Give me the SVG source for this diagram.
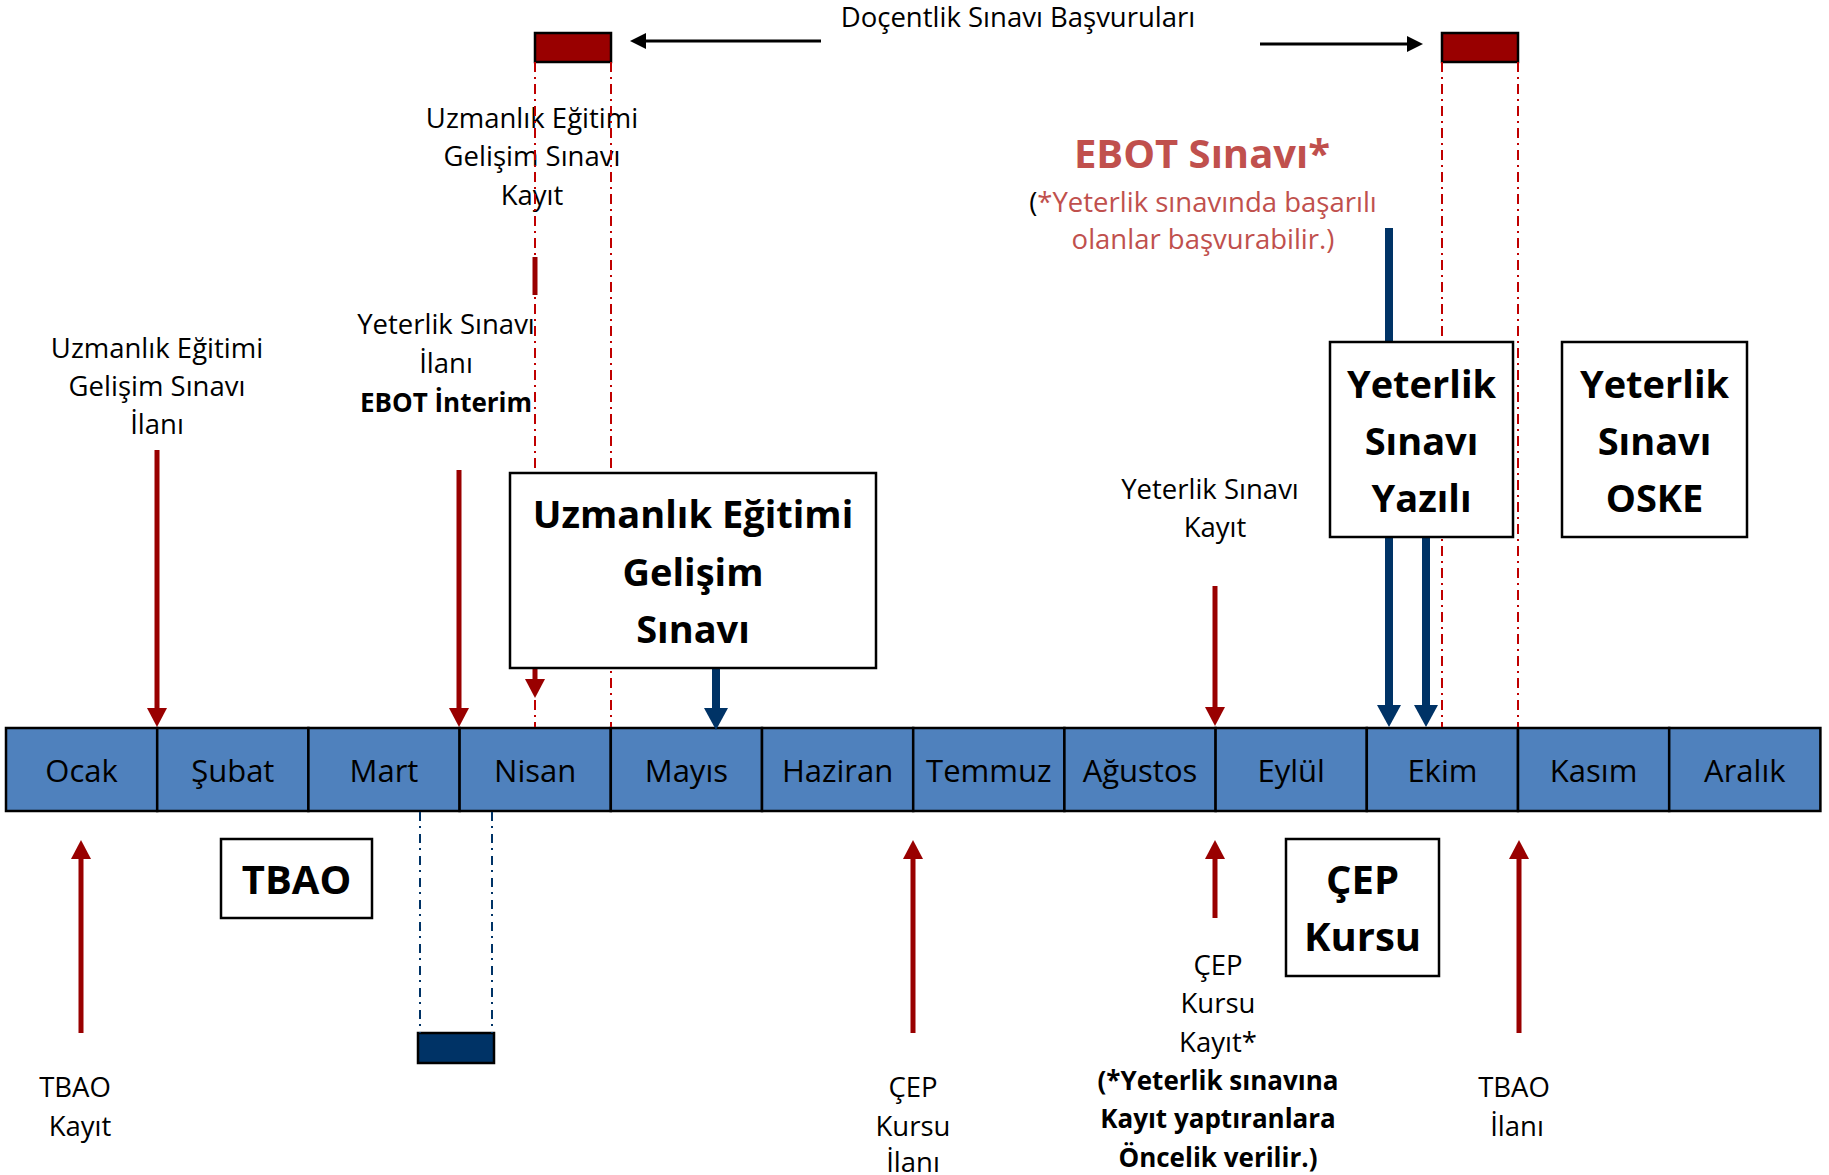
<svg xmlns="http://www.w3.org/2000/svg" width="1829" height="1175" viewBox="0 0 1829 1175">
<style>
text{font-family:"Open Sans","Noto Sans","Liberation Sans",sans-serif;text-anchor:middle;fill:#000}
.lbl{font-size:27.5px}
.lblb{font-size:26px;font-weight:bold}
.mon{font-size:31px}
.box{fill:#fff;stroke:#000;stroke-width:2.5}
.boxt{font-size:38px;font-weight:bold}
.boxt2{font-size:40px;font-weight:bold}
.red{fill:#C0504D}
.cell{fill:#4F81BD;stroke:#000;stroke-width:2.5}
.rdash{stroke:#C00000;stroke-width:2;stroke-dasharray:10 5 2 5;fill:none}
.bdash{stroke:#003366;stroke-width:2;stroke-dasharray:9 5 2 6;fill:none}
.ra{stroke:#990000;stroke-width:5;fill:none}
.ba{stroke:#003366;stroke-width:8;fill:none}
.ka{stroke:#000;stroke-width:3;fill:none}
</style>
<defs>
<marker id="mr" markerUnits="userSpaceOnUse" viewBox="0 0 19 20" markerWidth="19" markerHeight="20" refX="4" refY="10" orient="auto"><path d="M0,0 L19,10 L0,20 z" fill="#990000"/></marker>
<marker id="mb" markerUnits="userSpaceOnUse" viewBox="0 0 22 24" markerWidth="22" markerHeight="24" refX="4" refY="12" orient="auto"><path d="M0,0 L22,12 L0,24 z" fill="#003366"/></marker>
<marker id="mk" markerUnits="userSpaceOnUse" viewBox="0 0 16 16" markerWidth="16" markerHeight="16" refX="4" refY="8" orient="auto"><path d="M0,0 L16,8 L0,16 z" fill="#000"/></marker>
</defs>

<g id="timeline">
<rect class="cell" x="6" y="728" width="151.2" height="83"/>
<rect class="cell" x="157.2" y="728" width="151.2" height="83"/>
<rect class="cell" x="308.4" y="728" width="151.2" height="83"/>
<rect class="cell" x="459.6" y="728" width="151.2" height="83"/>
<rect class="cell" x="610.8" y="728" width="151.2" height="83"/>
<rect class="cell" x="762" y="728" width="151.2" height="83"/>
<rect class="cell" x="913.2" y="728" width="151.2" height="83"/>
<rect class="cell" x="1064.4" y="728" width="151.2" height="83"/>
<rect class="cell" x="1215.6" y="728" width="151.2" height="83"/>
<rect class="cell" x="1366.8" y="728" width="151.2" height="83"/>
<rect class="cell" x="1518" y="728" width="151.2" height="83"/>
<rect class="cell" x="1669.2" y="728" width="151.2" height="83"/>
<text class="mon" x="81.6" y="782">Ocak</text>
<text class="mon" x="232.8" y="782">Şubat</text>
<text class="mon" x="384" y="782">Mart</text>
<text class="mon" x="535.2" y="782">Nisan</text>
<text class="mon" x="686.4" y="782">Mayıs</text>
<text class="mon" x="837.6" y="782">Haziran</text>
<text class="mon" x="988.8" y="782">Temmuz</text>
<text class="mon" x="1140" y="782">Ağustos</text>
<text class="mon" x="1291.2" y="782">Eylül</text>
<text class="mon" x="1442.4" y="782">Ekim</text>
<text class="mon" x="1593.6" y="782">Kasım</text>
<text class="mon" x="1744.8" y="782">Aralık</text>
</g>

<g id="labels">
<text class="lbl" x="1018" y="27">Doçentlik Sınavı Başvuruları</text>
<text class="lbl" x="532" y="128">Uzmanlık Eğitimi</text>
<text class="lbl" x="532" y="166">Gelişim Sınavı</text>
<text class="lbl" x="532" y="205">Kayıt</text>
<text x="1202" y="168" style="font-size:40px;font-weight:bold" class="red">EBOT Sınavı*</text>
<text class="lbl" x="1203" y="212">(<tspan class="red">*Yeterlik sınavında başarılı</tspan></text>
<text class="lbl red" x="1203" y="249">olanlar başvurabilir.)</text>
<text class="lbl" x="157" y="358">Uzmanlık Eğitimi</text>
<text class="lbl" x="157" y="396">Gelişim Sınavı</text>
<text class="lbl" x="157" y="434">İlanı</text>
<text class="lbl" x="446" y="334">Yeterlik Sınavı</text>
<text class="lbl" x="446" y="373">İlanı</text>
<text class="lblb" x="446" y="412">EBOT İnterim</text>
<text class="lbl" x="1210" y="499">Yeterlik Sınavı</text>
<text class="lbl" x="1215" y="537">Kayıt</text>
<text class="lbl" x="75" y="1097">TBAO</text>
<text class="lbl" x="80" y="1136">Kayıt</text>
<text class="lbl" x="913" y="1097">ÇEP</text>
<text class="lbl" x="913" y="1136">Kursu</text>
<text class="lbl" x="913" y="1172">İlanı</text>
<text class="lbl" x="1218" y="975">ÇEP</text>
<text class="lbl" x="1218" y="1013">Kursu</text>
<text class="lbl" x="1218" y="1052">Kayıt*</text>
<text class="lblb" x="1218" y="1090">(*Yeterlik sınavına</text>
<text class="lblb" x="1218" y="1128">Kayıt yaptıranlara</text>
<text class="lblb" x="1218" y="1167">Öncelik verilir.)</text>
<text class="lbl" x="1514" y="1097">TBAO</text>
<text class="lbl" x="1517" y="1136">İlanı</text>
</g>

<g id="periods">
<rect x="535" y="33" width="76" height="29" fill="#990000" stroke="#000" stroke-width="2.5"/>
<rect x="1442" y="33" width="76" height="29" fill="#990000" stroke="#000" stroke-width="2.5"/>
<rect x="418" y="1033" width="76" height="30" fill="#003366" stroke="#000" stroke-width="2.5"/>
</g>

<g id="connectors">
<line class="rdash" x1="535" y1="62" x2="535" y2="727"/>
<line class="rdash" x1="611" y1="62" x2="611" y2="727"/>
<line class="rdash" x1="1442" y1="62" x2="1442" y2="727"/>
<line class="rdash" x1="1518" y1="62" x2="1518" y2="727"/>
<line class="bdash" x1="420" y1="812" x2="420" y2="1033"/>
<line class="bdash" x1="492" y1="812" x2="492" y2="1033"/>
<line class="ka" x1="821" y1="41" x2="642" y2="41" marker-end="url(#mk)"/>
<line class="ka" x1="1260" y1="44" x2="1411" y2="44" marker-end="url(#mk)"/>
<line class="ra" x1="157" y1="450" x2="157" y2="712" marker-end="url(#mr)"/>
<line class="ra" x1="459" y1="470" x2="459" y2="712" marker-end="url(#mr)"/>
<line class="ra" x1="535" y1="257" x2="535" y2="295"/>
<line class="ra" x1="535" y1="472" x2="535" y2="683" marker-end="url(#mr)"/>
<line class="ra" x1="1215" y1="586" x2="1215" y2="711" marker-end="url(#mr)"/>
<line class="ra" x1="81" y1="1033" x2="81" y2="855" marker-end="url(#mr)"/>
<line class="ra" x1="913" y1="1033" x2="913" y2="855" marker-end="url(#mr)"/>
<line class="ra" x1="1215" y1="918" x2="1215" y2="855" marker-end="url(#mr)"/>
<line class="ra" x1="1519" y1="1033" x2="1519" y2="855" marker-end="url(#mr)"/>
<line class="ba" x1="716" y1="668" x2="716" y2="712" marker-end="url(#mb)"/>
<line class="ba" x1="1389" y1="537" x2="1389" y2="709" marker-end="url(#mb)"/>
<line class="ba" x1="1426" y1="537" x2="1426" y2="709" marker-end="url(#mb)"/>
<line class="ba" x1="1389" y1="228" x2="1389" y2="342"/>
</g>

<g id="uzmanlik-box">
<rect class="box" x="510" y="473" width="366" height="195"/>
<text class="boxt" x="693" y="528">Uzmanlık Eğitimi</text>
<text class="boxt" x="693" y="586">Gelişim</text>
<text class="boxt" x="693" y="643">Sınavı</text>
</g>
<g id="yazili-box">
<rect class="box" x="1330" y="342" width="183" height="195"/>
<text class="boxt" x="1421.5" y="398">Yeterlik</text>
<text class="boxt" x="1421.5" y="455">Sınavı</text>
<text class="boxt" x="1421.5" y="512">Yazılı</text>
</g>
<g id="oske-box">
<rect class="box" x="1562" y="342" width="185" height="195"/>
<text class="boxt" x="1654.5" y="398">Yeterlik</text>
<text class="boxt" x="1654.5" y="455">Sınavı</text>
<text class="boxt" x="1654.5" y="512">OSKE</text>
</g>
<g id="tbao-box">
<rect class="box" x="221" y="839" width="151" height="79"/>
<text class="boxt2" x="296.5" y="894">TBAO</text>
</g>
<g id="cep-box">
<rect class="box" x="1286" y="839" width="153" height="137"/>
<text class="boxt2" x="1362.5" y="894">ÇEP</text>
<text class="boxt2" x="1362.5" y="951">Kursu</text>
</g>
</svg>
